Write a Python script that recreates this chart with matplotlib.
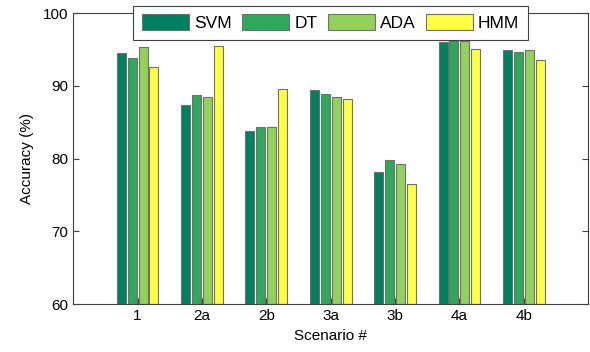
import matplotlib
matplotlib.use("Agg")
import matplotlib.pyplot as plt
import numpy as np

plt.rcParams['font.family'] = ['Liberation Sans', 'DejaVu Sans']

scenarios = ["1", "2a", "2b", "3a", "3b", "4a", "4b"]
methods = ["SVM", "DT", "ADA", "HMM"]
svm = [94.5, 87.3, 83.8, 89.4, 78.1, 96.0, 94.9]
dt = [93.8, 88.7, 84.3, 88.9, 79.8, 96.1, 94.6]
ada = [95.4, 88.5, 84.3, 88.5, 79.2, 96.2, 94.9]
hmm = [92.6, 95.5, 89.6, 88.2, 76.5, 95.0, 93.5]
series = [svm, dt, ada, hmm]
colors = ["#008060", "#2fa85c", "#92d25a", "#ffff44"]

fig = plt.figure(figsize=(5.9, 3.52), dpi=100)
ax = fig.add_axes([0.124, 0.136, 0.873, 0.827])

x = np.arange(1, len(scenarios) + 1)
offsets = [-0.255, -0.085, 0.085, 0.255]
for vals, off, c, name in zip(series, offsets, colors, methods):
    ax.bar(x + off, np.array(vals) - 60, bottom=60, width=0.14, color=c,
           edgecolor="#707070", linewidth=0.8, label=name, zorder=2)

ax.set_xlim(0, 8)
ax.set_ylim(60, 100)
ax.set_xticks(x)
ax.set_xticklabels(scenarios)
ax.set_yticks([60, 70, 80, 90, 100])
ax.tick_params(direction="in", length=4, labelsize=11, top=True, right=True,
               color="#404040")
for s in ax.spines.values():
    s.set_color("#404040")
    s.set_linewidth(0.8)
ax.set_xlabel("Scenario #", fontsize=11, labelpad=4)
ax.set_ylabel("Accuracy (%)", fontsize=11, labelpad=6)

leg = ax.legend(loc="upper center", bbox_to_anchor=(0.5, 1.025), ncol=4,
                fontsize=12.5, frameon=True, fancybox=False, handlelength=2.7,
                handleheight=1.0, columnspacing=0.6, handletextpad=0.3,
                borderpad=0.5, borderaxespad=0, edgecolor="#404040",
                framealpha=1)
leg.get_frame().set_linewidth(0.8)

fig.savefig("out.png", dpi=100)
